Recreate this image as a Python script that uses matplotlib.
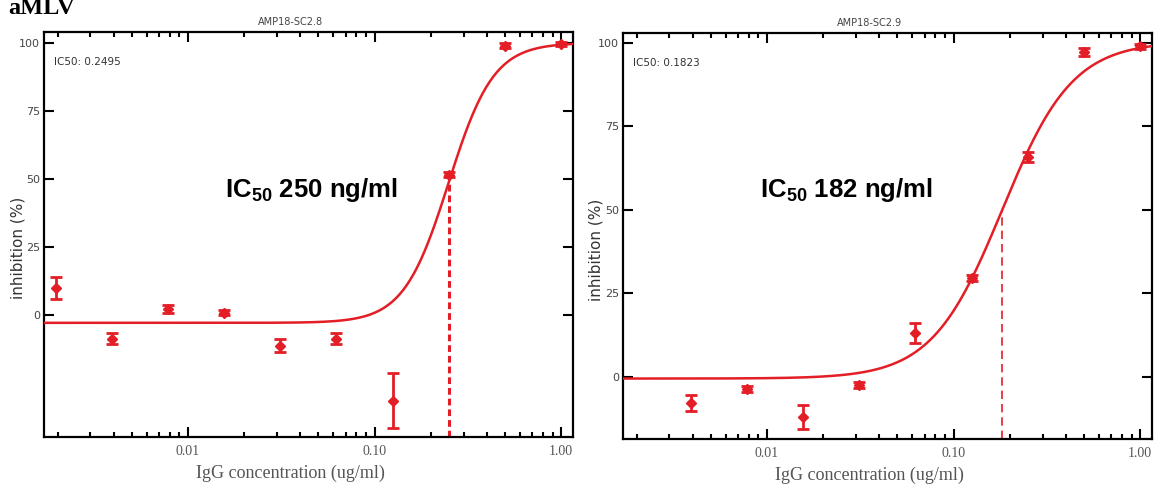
import numpy as np
import matplotlib
matplotlib.use("Agg")
import matplotlib.pyplot as plt
from matplotlib.ticker import LogLocator, NullFormatter, FixedLocator, FixedFormatter

plt.rcParams['mathtext.fontset'] = 'custom'
plt.rcParams['mathtext.bf'] = 'Liberation Sans:bold'
plt.rcParams['mathtext.rm'] = 'Liberation Sans'

RED = '#e41e26'

# left panel: AMP18-SC2.8
conc_a = [0.001953, 0.003906, 0.0078125, 0.015625, 0.03125, 0.0625, 0.125, 0.25, 0.5, 1.0]
inhib_a = [9.9, -8.8, 2.2, 0.7, -11.4, -8.8, -31.6, 51.5, 99.0, 99.5]
err_a = [4.0, 2.0, 1.5, 1.0, 2.5, 2.0, 10.0, 1.0, 1.0, 0.8]
fit_a = dict(bottom=-3.0, top=100.0, ic50=0.2495, hill=3.6)

# right panel: AMP18-SC2.9
conc_b = [0.003906, 0.0078125, 0.015625, 0.03125, 0.0625, 0.125, 0.25, 0.5, 1.0]
inhib_b = [-7.8, -3.6, -12.0, -2.4, 13.2, 29.6, 65.9, 97.3, 99.0]
err_b = [2.5, 1.0, 3.7, 1.0, 3.0, 1.0, 1.5, 1.2, 0.8]
fit_b = dict(bottom=-0.5, top=100.5, ic50=0.1823, hill=2.3)

titles = ['AMP18-SC2.8', 'AMP18-SC2.9']
ic50_small = ['IC50: 0.2495', 'IC50: 0.1823']
ic50_big = [r'IC$_{\mathbf{50}}$ 250 ng/ml', r'IC$_{\mathbf{50}}$ 182 ng/ml']
yticks = [0, 25, 50, 75, 100]
xtick_vals = [0.01, 0.1, 1.0]
xtick_labels = ['0.01', '0.10', '1.00']
XLIM = (0.00169, 1.159)


def logistic(x, bottom, top, ic50, hill):
    return bottom + (top - bottom) / (1 + (ic50 / x) ** hill)


def draw_panel(ax, conc, inhib, err, fit, ylim, title, small, big, big_pos, dash_style, dash_lw, ylab_pos):
    xs = np.logspace(np.log10(XLIM[0]), np.log10(XLIM[1]), 300)
    ax.plot(xs, logistic(xs, **fit), color=RED, lw=1.8, zorder=3)
    ax.errorbar(conc, inhib, yerr=err, fmt='D', color=RED, ms=5, elinewidth=2,
                capsize=4, capthick=2, zorder=4)
    ax.vlines(fit['ic50'], ylim[0], logistic(fit['ic50'], **fit), colors=RED,
              linestyles=dash_style, lw=dash_lw, zorder=2)

    ax.set_xscale('log')
    ax.set_xlim(*XLIM)
    ax.set_ylim(*ylim)

    ax.xaxis.set_major_locator(FixedLocator(xtick_vals))
    ax.xaxis.set_major_formatter(FixedFormatter(xtick_labels))
    ax.xaxis.set_minor_locator(LogLocator(base=10, subs=np.arange(2, 10)))
    ax.xaxis.set_minor_formatter(NullFormatter())
    ax.set_yticks(yticks)
    ax.set_yticklabels([str(v) for v in yticks])

    ax.tick_params(which='both', direction='in', top=True, right=True, width=1.5)
    ax.tick_params(which='major', length=7)
    ax.tick_params(which='minor', length=3.5)
    ax.tick_params(axis='x', labelsize=10, labelcolor='#555555', pad=6)
    ax.tick_params(axis='y', labelsize=8, labelcolor='#444444', pad=3)
    for lab in ax.get_xticklabels():
        lab.set_fontfamily('Liberation Serif')
    for sp in ax.spines.values():
        sp.set_linewidth(1.6)

    ax.text(0.465, 1.012, title, transform=ax.transAxes, ha='center', va='bottom',
            fontsize=7, color='#444444')
    ax.text(0.018, 0.926, small, transform=ax.transAxes, ha='left', va='center',
            fontsize=7.5, color='#333333')
    ax.text(big_pos[0], big_pos[1], big, transform=ax.transAxes, ha='center', va='center',
            fontsize=18.5, fontweight='bold', fontfamily='Liberation Sans')

    ax.set_xlabel('IgG concentration (ug/ml)', fontfamily='Liberation Serif', fontsize=13,
                  color='#555555')
    ax.xaxis.set_label_coords(0.465, -0.068)
    ax.set_ylabel('inhibition (%)', fontsize=11, color='#333333')
    ax.yaxis.set_label_coords(ylab_pos[0], ylab_pos[1])


fig = plt.figure(figsize=(11.6, 4.92), dpi=100)
ax1 = fig.add_axes([44 / 1160, 55 / 492, 529 / 1160, 405 / 492])
ax2 = fig.add_axes([623 / 1160, 53 / 492, 529 / 1160, 406 / 492])

draw_panel(ax1, conc_a, inhib_a, err_a, fit_a, (-45, 104), titles[0], ic50_small[0],
           ic50_big[0], (0.505, 0.61), (0, (2.2, 1.3)), 2.2, (-0.035, 0.467))
draw_panel(ax2, conc_b, inhib_b, err_b, fit_b, (-18.6, 103), titles[1], ic50_small[1],
           ic50_big[1], (0.423, 0.613), (0, (5, 3)), 1.2, (-0.037, 0.466))

fig.text(0.007, 0.9715, 'aMLV', fontfamily='Liberation Serif', fontweight='bold',
         fontsize=17.5, ha='left', va='baseline')

fig.savefig('out.png', dpi=100)
